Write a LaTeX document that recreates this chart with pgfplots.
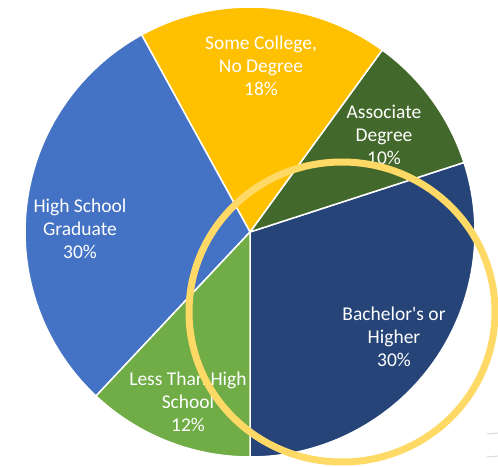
\documentclass[border=0pt]{standalone}
\usepackage{pgfplots}
\usepackage{pgfplotstable}
\usepackage{fontspec}
\setmainfont{Carlito}[Ligatures=TeXOff]
\pgfplotsset{compat=1.18}

\definecolor{bach}{HTML}{264478}
\definecolor{assoc}{HTML}{43682B}
\definecolor{somec}{HTML}{FFC000}
\definecolor{hsgrad}{HTML}{4472C4}
\definecolor{lesshs}{HTML}{70AD47}
\definecolor{ring}{HTML}{FFD966}

% slices counter-clockwise from 6 o'clock; lx/ly = label centre
\pgfplotstableread[col sep=semicolon]{
first;second;value;lx;ly;colour
Bachelor's or;Higher;30;394;130;bach
Associate;Degree;10;384;332;assoc
Some College,;No Degree;18;261;401;somec
High School;Graduate;30;80;238;hsgrad
Less Than High;School;12;188;65;lesshs
}\piedata

\newcommand\labelfont{\fontsize{19.5bp}{23bp}\selectfont}

\begin{document}
\begin{tikzpicture}
\path[use as bounding box] (0,0) rectangle (498bp,467bp);
\clip (0,0) rectangle (498bp,467bp);

% cumulative angles, stored per slice
\def\cum{270}
\pgfplotsforeachungrouped \i in {0,...,4}{%
  \pgfplotstablegetelem{\i}{value}\of\piedata
  \pgfmathtruncatemacro{\pv}{\pgfplotsretval}
  \pgfmathsetmacro{\st}{\cum}
  \pgfmathsetmacro{\en}{\cum+3.6*\pv}
  \expandafter\xdef\csname pst\i\endcsname{\st}
  \expandafter\xdef\csname pen\i\endcsname{\en}
  \expandafter\xdef\csname ppc\i\endcsname{\pv}
  \let\cum\en
  \pgfplotstablegetelem{\i}{first}\of\piedata
  \expandafter\xdef\csname pfa\i\endcsname{\pgfplotsretval}
  \pgfplotstablegetelem{\i}{second}\of\piedata
  \expandafter\xdef\csname psa\i\endcsname{\pgfplotsretval}
  \pgfplotstablegetelem{\i}{lx}\of\piedata
  \expandafter\xdef\csname plx\i\endcsname{\pgfplotsretval}
  \pgfplotstablegetelem{\i}{ly}\of\piedata
  \expandafter\xdef\csname ply\i\endcsname{\pgfplotsretval}
  \pgfplotstablegetelem{\i}{colour}\of\piedata
  \expandafter\xdef\csname pco\i\endcsname{\pgfplotsretval}
}

\begin{axis}[
    x=1bp, y=1bp,
    xmin=0, xmax=498,
    ymin=0, ymax=467,
    hide axis,
    clip=false,
  ]
  \pgfplotsinvokeforeach{0,...,4}{%
    \edef\temp{\noexpand\fill[fill=\csname pco#1\endcsname, draw=white, line width=1.5bp, line join=round]
      (axis cs:250,235) -- ++(\csname pst#1\endcsname:225bp)
      arc[start angle=\csname pst#1\endcsname, end angle=\csname pen#1\endcsname, radius=225bp] -- cycle;}%
    \temp
  }
  \pgfplotsinvokeforeach{0,...,4}{%
    \edef\temp{\noexpand\node[align=center, text=white, font=\noexpand\labelfont, inner sep=0pt]
      at (axis cs:\csname plx#1\endcsname,\csname ply#1\endcsname)
      {\csname pfa#1\endcsname\noexpand\\\csname psa#1\endcsname\noexpand\\\csname ppc#1\endcsname\noexpand\%};}%
    \temp
  }
  % highlight ring
  \draw[ring, line width=7bp] (axis cs:342,155) ellipse[x radius=153bp, y radius=150bp];
  % faint slide lines at the corner
  \draw[black!15, line width=1bp] (axis cs:487,33) -- (axis cs:498,34);
  \draw[black!15, line width=1bp] (axis cs:487,10) -- (axis cs:498,11);
\end{axis}
\end{tikzpicture}
\end{document}
